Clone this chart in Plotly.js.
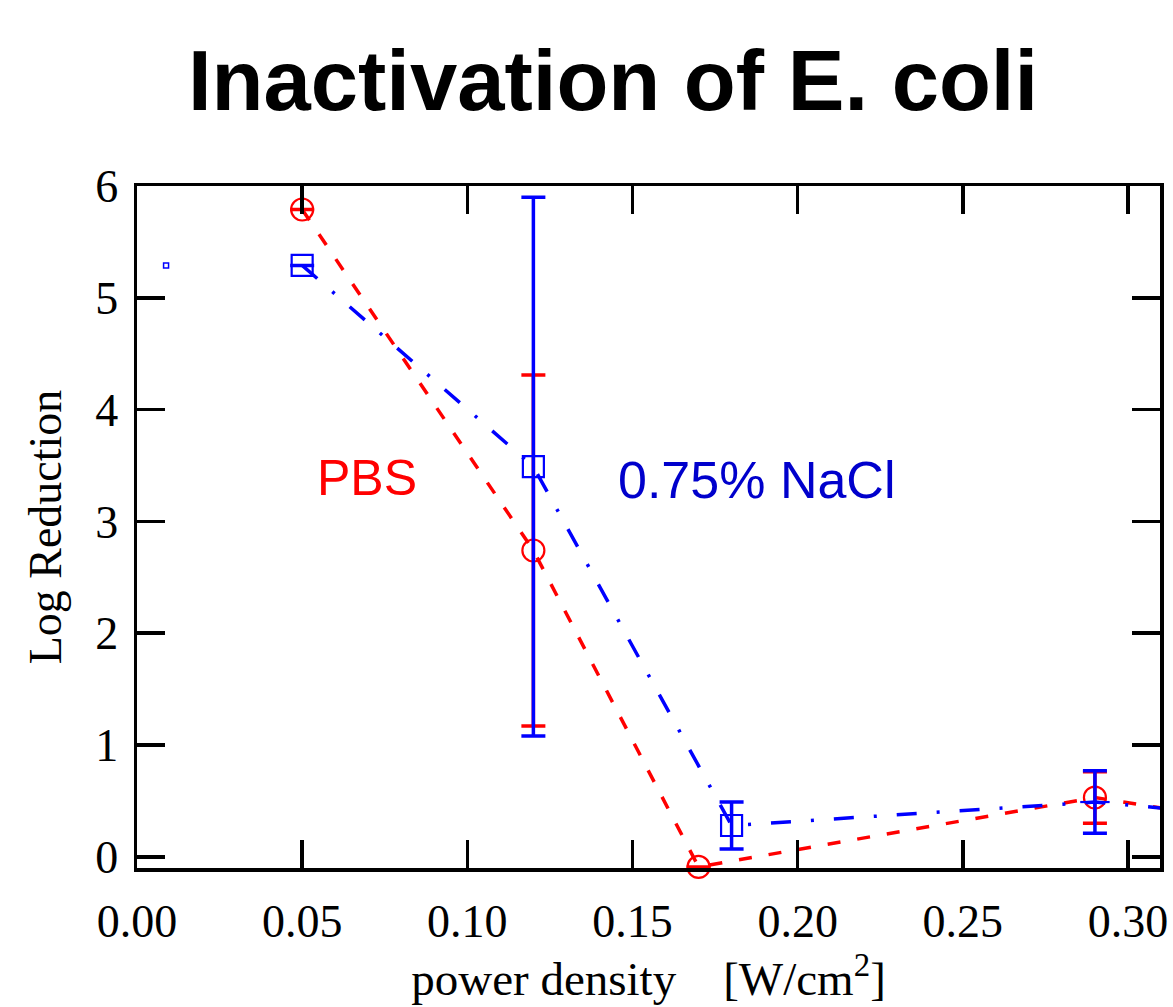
<!DOCTYPE html>
<html><head><meta charset="utf-8">
<script src="https://cdn.plot.ly/plotly-3.0.1.min.js"></script>
<style>html,body{margin:0;padding:0;background:#fff}#chart{width:1173px;height:1007px}</style>
</head><body><div id="chart"></div>
<script>
// PBS series (red circles, dashed)
const pbsX = [0.05, 0.12, 0.17, 0.29, 0.35];
const pbsY = [5.79, 2.74, -0.09, 0.53, 0.25];
const pbsErr = [0, 1.57, 0, 0.23, 0];
// 0.75% NaCl series (blue squares, dash-dot)
const naclX = [0.05, 0.12, 0.18, 0.29, 0.35];
const naclY = [5.29, 3.49, 0.28, 0.49, 0.33];
const naclErr = [0, 2.41, 0.21, 0.28, 0];
const naclSymbols = ['square-open', 'square-open', 'square-open', 'line-ew-open', 'square-open'];
// stray small marker near the left axis
const strayX = [0.0088];
const strayY = [5.29];
// ticks
const xTickVals = [0, 0.05, 0.10, 0.15, 0.20, 0.25, 0.30];
const yTickVals = [0, 1, 2, 3, 4, 5, 6];

const serif = 'Liberation Serif, Times New Roman, serif';
const sans = 'Liberation Sans, Arial, sans-serif';

const traces = [
  {
    x: pbsX, y: pbsY, type: 'scatter', mode: 'lines+markers', name: 'PBS',
    cliponaxis: false,
    line: {color: '#ff0000', width: 3.5, dash: '13px,17px'},
    marker: {symbol: 'circle-open', size: 22, color: '#ff0000', line: {width: 2.2, color: '#ff0000'}},
    error_y: {type: 'data', array: pbsErr, visible: true, color: '#ff0000', thickness: 3.5, width: 12}
  },
  {
    x: naclX, y: naclY, type: 'scatter', mode: 'lines+markers', name: '0.75% NaCl',
    cliponaxis: false,
    line: {color: '#0000ff', width: 3.5, dash: '20px,20px,3px,20px'},
    marker: {symbol: naclSymbols, size: 21, color: '#0000ff', line: {width: 2.2, color: '#0000ff'}},
    error_y: {type: 'data', array: naclErr, visible: true, color: '#0000ff', thickness: 3.5, width: 12}
  },
  {
    x: strayX, y: strayY, type: 'scatter', mode: 'markers', name: 'stray',
    marker: {symbol: 'square-open', size: 5, color: '#0000ff', line: {width: 1.5, color: '#0000ff'}}
  }
];

const layout = {
  width: 1173, height: 1007,
  paper_bgcolor: '#ffffff', plot_bgcolor: '#ffffff',
  showlegend: false,
  margin: {l: 137, r: 13, t: 186, b: 139, pad: 0},
  title: {
    text: 'Inactivation of E. coli',
    font: {family: sans, size: 85, weight: 'bold', color: '#000000'},
    xref: 'container', x: 0.5226, xanchor: 'center',
    yref: 'container', y: 0.9206, yanchor: 'middle'
  },
  xaxis: {
    range: [0, 0.3097], tickvals: xTickVals, tickformat: '.2f',
    showgrid: false, zeroline: false,
    showline: true, linecolor: '#000', linewidth: 3.5, mirror: 'ticks',
    ticks: 'inside', ticklen: 28, tickwidth: 3.5, tickcolor: '#000',
    tickfont: {family: serif, size: 46, color: '#000'},
    ticklabelstandoff: 10,
    title: {text: 'power density&nbsp;&nbsp;&nbsp;&nbsp;[W/cm<sup>2</sup>]', font: {family: serif, size: 47, color: '#000'}, standoff: 6}
  },
  yaxis: {
    range: [-0.1, 6], tickvals: yTickVals,
    showgrid: false, zeroline: false,
    showline: true, linecolor: '#000', linewidth: 3.5, mirror: 'ticks',
    ticks: 'inside', ticklen: 28, tickwidth: 3.5, tickcolor: '#000',
    tickfont: {family: serif, size: 46, color: '#000'},
    ticklabelstandoff: 6,
    title: {text: 'Log Reduction', font: {family: serif, size: 46, color: '#000'}, standoff: 20}
  },
  annotations: [
    {x: 0.0696, y: 3.39, xref: 'x', yref: 'y', text: 'PBS', showarrow: false,
     font: {family: sans, size: 50, color: '#ff0000'}, xanchor: 'center', yanchor: 'middle'},
    {x: 0.1875, y: 3.37, xref: 'x', yref: 'y', text: '0.75% NaCl', showarrow: false,
     font: {family: sans, size: 52, color: '#0000cc'}, xanchor: 'center', yanchor: 'middle'}
  ]
};

Plotly.newPlot('chart', traces, layout, {displayModeBar: false, staticPlot: true});
</script>
</body></html>
